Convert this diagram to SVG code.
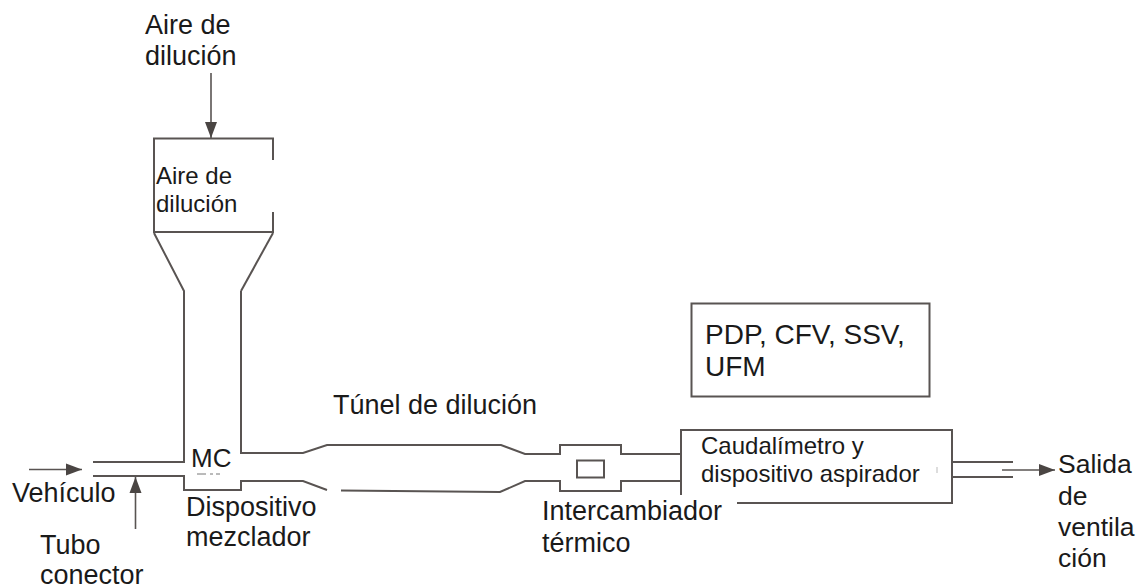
<svg xmlns="http://www.w3.org/2000/svg" width="1137" height="585" viewBox="0 0 1137 585">
<style>
text{font-family:"Liberation Sans",Arial,sans-serif;fill:#1a1a1a;font-size:27px}
.s{font-size:24px}
.o{font-size:26.500px}
.p{font-size:28px}
.l{fill:none;stroke:#595452;stroke-width:2}
.a{fill:none;stroke:#595452;stroke-width:1.6}
</style>
<defs><marker id="arr" markerUnits="userSpaceOnUse" markerWidth="18" markerHeight="14" refX="16" refY="7" orient="auto"><path d="M0,1L16,7L0,13z" fill="#4a4543"/></marker></defs>
<rect width="1137" height="585" fill="#fff"/>
<g id="connectors">
<path class="a" d="M211,73V138" marker-end="url(#arr)"/>
<path class="a" d="M29,469.500H82" marker-end="url(#arr)"/>
<path class="a" d="M135.500,529V477" marker-end="url(#arr)"/>
<path class="a" d="M1002,470H1055" marker-end="url(#arr)"/>
</g>
<g id="mixing-tunnel">
<path class="l" d="M93,462H184V291L154,233M241,291V453H303L327,445H501L525,454H560V445H621V454H681"/>
<path class="l" d="M93,476H184V490H241V481H303L327,490M341,490.500L500,492L525,481H560V491H621V481H681"/>
<path class="l" d="M241,291L273,233"/>
<path d="M197,474H206M210,474H213M216,474H220" stroke="#777" stroke-width="1" fill="none"/>
<text x="191" y="467" style="font-size:26px">MC</text>
</g>
<g id="air-box">
<path class="l" d="M273,160V138.500H154V232H273V212"/>
<text class="s" x="156" y="184">Aire de</text>
<text class="s" x="156" y="212">dilución</text>
</g>
<g id="air-label"><text x="145" y="34">Aire de</text><text x="145" y="65">dilución</text></g>
<g id="pdp-box">
<rect class="l" x="691.500" y="303.500" width="238" height="93"/>
<text class="p" x="705" y="344">PDP, CFV, SSV,</text>
<text class="p" x="705" y="376">UFM</text>
</g>
<g id="tunnel-label"><text x="333" y="414">Túnel de dilución</text></g>
<g id="heat-exchanger">
<rect class="l" x="577" y="460.500" width="27" height="17"/>
<text x="542" y="520">Intercambiador</text>
<text x="542" y="552">térmico</text>
</g>
<g id="flowmeter">
<path class="l" d="M681,495V430H952V503H737"/>
<text class="s" x="701" y="454">Caudalímetro y</text>
<text class="s" x="701" y="482">dispositivo aspirador</text>
<path class="l" d="M952,462H1013M952,477H1013"/>
<path d="M937,467V473" stroke="#bbb" stroke-width="1" fill="none"/>
</g>
<g id="outlet-label"><text class="o" x="1058" y="473">Salida</text><text class="o" x="1058" y="505">de</text><text class="o" x="1058" y="536">ventila</text><text class="o" x="1058" y="567">ción</text></g>
<g id="vehicle-label"><text x="12" y="502">Vehículo</text></g>
<g id="tube-label"><text x="40" y="554">Tubo</text><text x="40" y="584">conector</text></g>
<g id="mixer-label"><text x="186" y="516">Dispositivo</text><text x="186" y="546">mezclador</text></g>
</svg>
